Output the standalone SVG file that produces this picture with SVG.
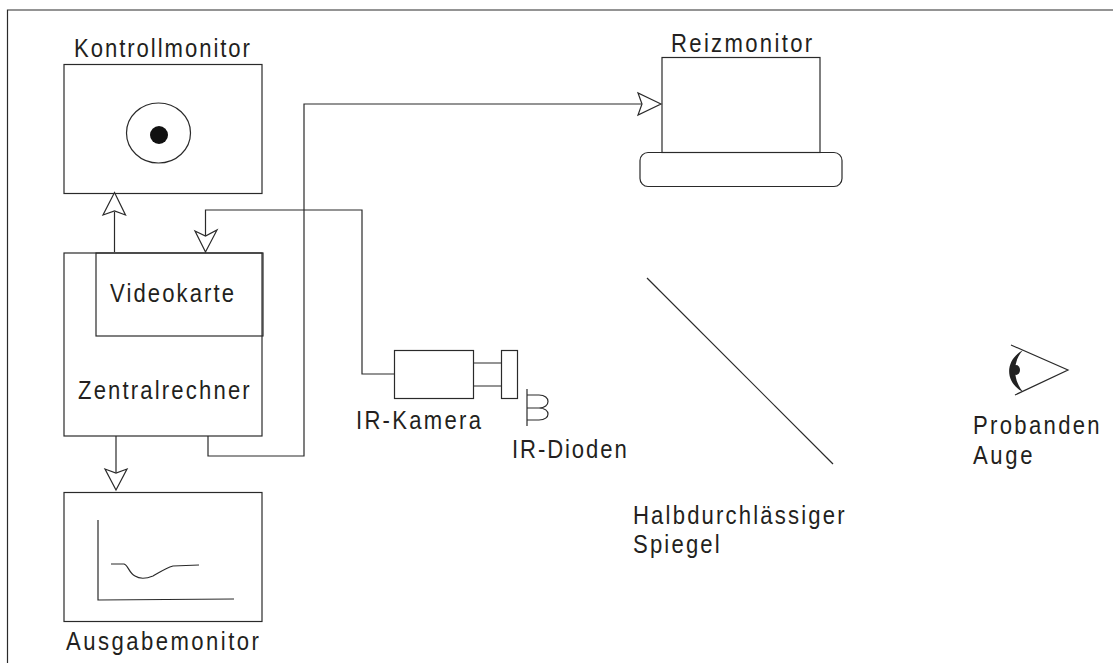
<svg xmlns="http://www.w3.org/2000/svg" width="1113" height="663" viewBox="0 0 1113 663">
<style>
.s{fill:none;stroke:#2a2a2a;stroke-width:1.2}
.h{fill:#fff;stroke:#2a2a2a;stroke-width:1.2}
text{font-family:"Liberation Sans",Arial,sans-serif;font-size:26px;fill:#231f20}
</style>
<rect width="1113" height="663" fill="#fff"/>
<path class="s" d="M1113 10H7.500V663" stroke-width="1.400"/>
<g id="kontrollmonitor"><rect class="s" x="64" y="64.500" width="198" height="129"/><ellipse class="s" cx="158.500" cy="133" rx="32" ry="30"/><circle cx="159" cy="135" r="9" fill="#111"/><text transform="translate(74 57) scale(.85 1)" textLength="207">Kontrollmonitor</text></g>
<g id="zentralrechner"><rect class="s" x="64" y="253" width="198" height="183"/><text transform="translate(78 399) scale(.85 1)" textLength="202">Zentralrechner</text></g>
<g id="videokarte"><rect class="s" x="96" y="253" width="167" height="83" stroke-width="1.500"/><text transform="translate(110 302) scale(.85 1)" textLength="146">Videokarte</text></g>
<g id="ausgabemonitor"><rect class="s" x="64" y="492.500" width="198" height="129"/><path class="s" d="M98 520V600L234 599"/><path class="s" d="M111 564H124C128 565 129 573 135 576C141 580 148 578 153 576C160 572 166 568 173 566L199 565"/><text transform="translate(66 650) scale(.85 1)" textLength="227">Ausgabemonitor</text></g>
<g id="reizmonitor"><rect class="s" x="662" y="57.500" width="158" height="95"/><rect class="s" x="640" y="152.500" width="202" height="34" rx="8"/><text transform="translate(671 52) scale(.85 1)" textLength="166">Reizmonitor</text></g>
<g id="kamera"><rect class="s" x="394.500" y="350.500" width="79" height="48"/><path class="s" d="M473 363H501M473 386H501"/><rect class="s" x="501.500" y="350.500" width="16" height="48"/><text transform="translate(356 429) scale(.85 1)" textLength="147">IR-Kamera</text></g>
<g id="dioden"><path class="s" stroke-width="1.500" d="M527 389V426M527 395H539C551 395 551 408 539 408H527M539 408C551 408 551 420 539 420H527"/><text transform="translate(512 458) scale(.85 1)" textLength="135">IR-Dioden</text></g>
<g id="spiegel"><path class="s" d="M647 278L833 464"/><text transform="translate(633 524) scale(.85 1)" textLength="249">Halbdurchlässiger</text><text transform="translate(633 553) scale(.85 1)" textLength="102">Spiegel</text></g>
<g id="auge"><path class="s" d="M1011 345L1068 370L1015 395"/><path d="M1023 350C1005 360 1004 382 1023 392C1013 380 1012 362 1023 350Z" fill="#222"/><ellipse cx="1016" cy="370" rx="4" ry="5" fill="#222"/><text transform="translate(973 434) scale(.85 1)" textLength="149">Probanden</text><text transform="translate(973 464) scale(.85 1)" textLength="70">Auge</text></g>
<g id="connectors">
<path class="s" d="M114.500 252V212"/><path class="h" d="M114.500 192.500L125.500 215L114.500 211L103 215Z"/>
<path class="s" d="M394 374H362V210H205.500V236"/><path class="h" d="M205.500 252L195 231L205.500 236L217 230Z"/>
<path class="s" d="M208 436V456H304V104H642"/><path class="h" d="M661 104L638 93L642 104L638 115Z"/>
<path class="s" d="M116 436V473"/><path class="h" d="M116 490L105 469L116 473L127 469Z"/>
</g>
</svg>
